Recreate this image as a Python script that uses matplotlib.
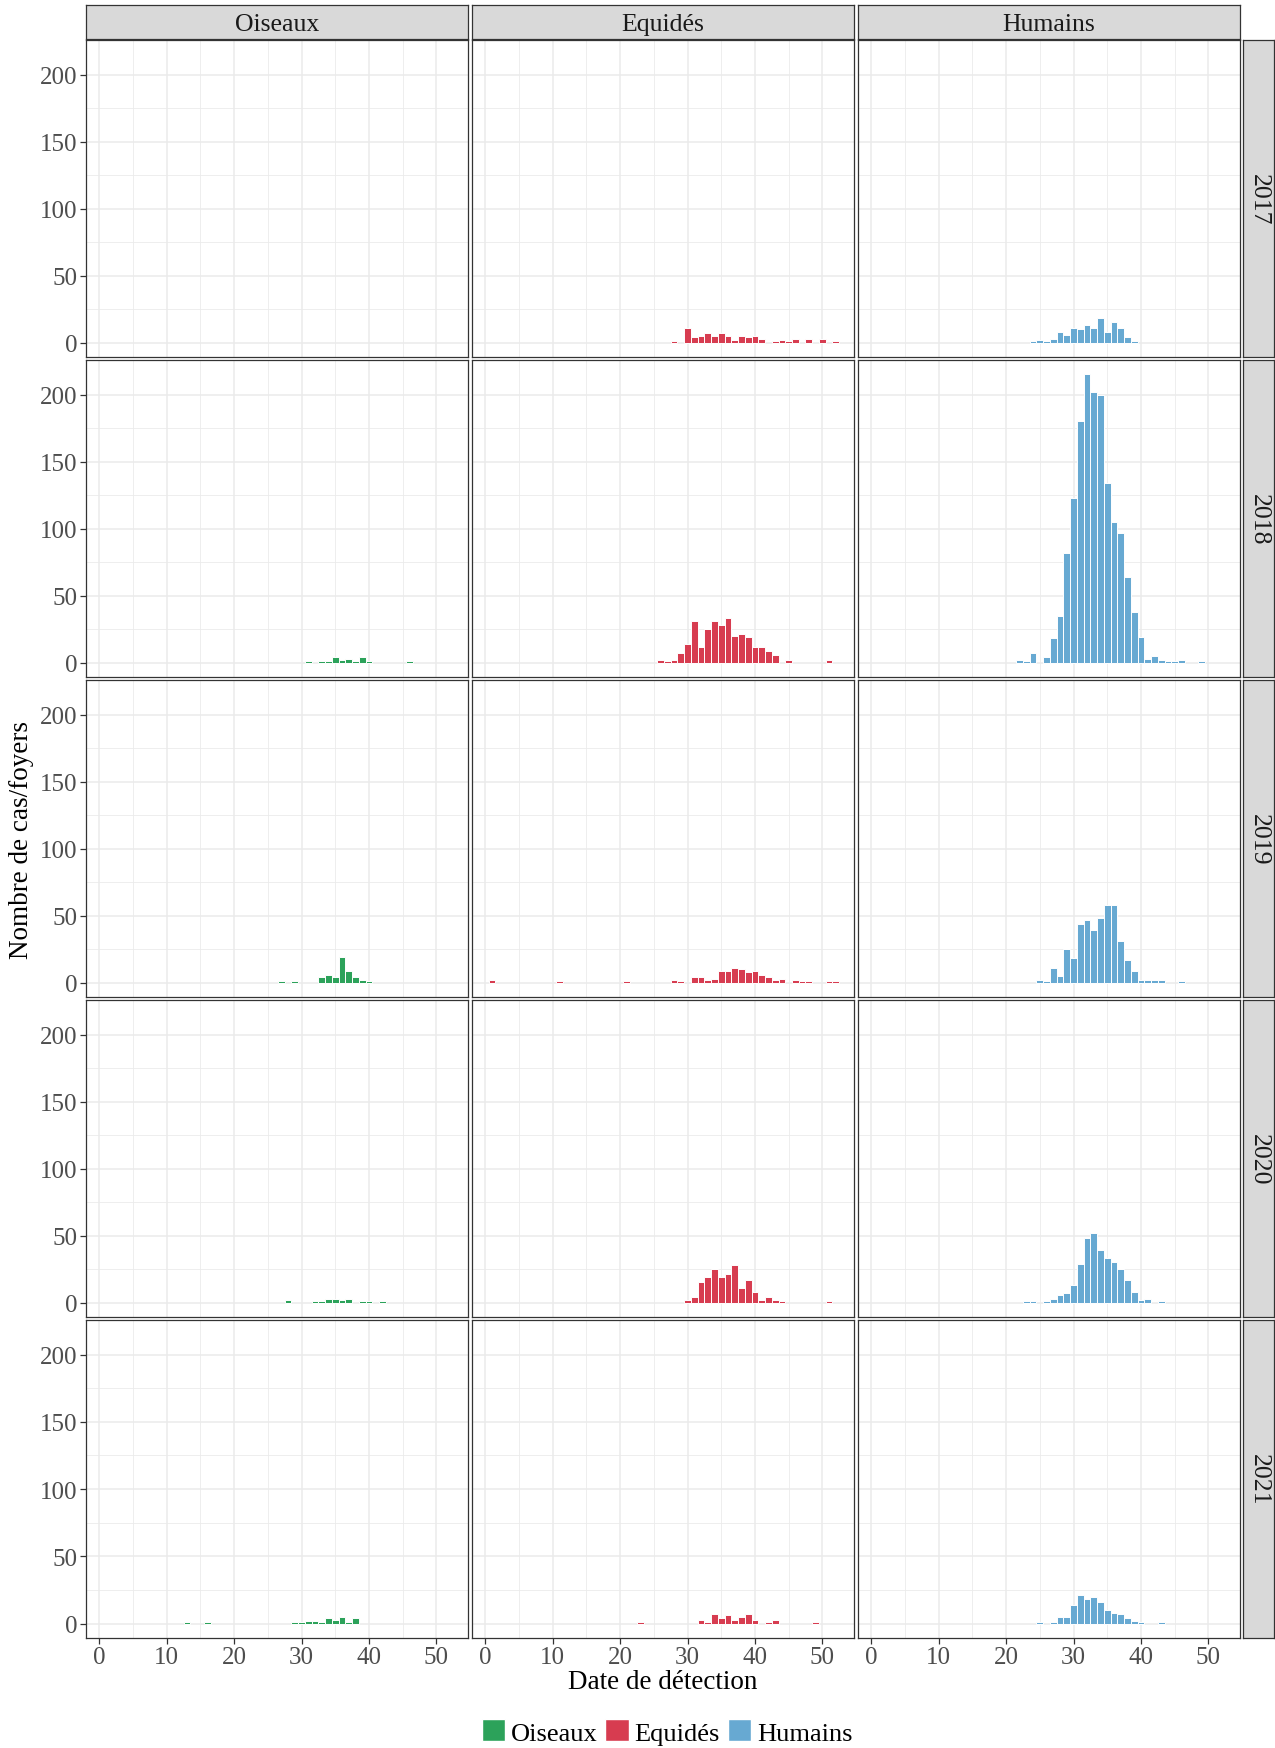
import matplotlib
matplotlib.use("Agg")
import matplotlib.pyplot as plt
from matplotlib.patches import Patch

plt.rcParams['font.family'] = ['Liberation Serif', 'DejaVu Serif']

# weekly counts, week -> number of cases/outbreaks
oiseaux_2017 = {}
oiseaux_2018 = {31: 1, 33: 1, 34: 1, 35: 4, 36: 2, 37: 3, 38: 1, 39: 4, 40: 1, 46: 1}
oiseaux_2019 = {27: 1, 29: 1, 33: 4, 34: 6, 35: 4, 36: 19, 37: 9, 38: 4, 39: 2, 40: 1}
oiseaux_2020 = {28: 2, 32: 1, 33: 1, 34: 3, 35: 3, 36: 2, 37: 3, 39: 1, 40: 1, 42: 1}
oiseaux_2021 = {13: 1, 16: 1, 29: 1, 30: 1, 31: 2, 32: 2, 33: 1, 34: 4, 35: 3,
                36: 5, 37: 1, 38: 4}

equides_2017 = {28: 1, 30: 11, 31: 4, 32: 5, 33: 7, 34: 5, 35: 7, 36: 5, 37: 2,
                38: 5, 39: 4, 40: 5, 41: 3, 43: 1, 44: 2, 45: 1, 46: 3, 48: 3,
                50: 3, 52: 1}
equides_2018 = {26: 2, 27: 1, 28: 2, 29: 7, 30: 14, 31: 31, 32: 12, 33: 25, 34: 31,
                35: 28, 36: 33, 37: 20, 38: 21, 39: 19, 40: 12, 41: 12, 42: 9,
                43: 6, 45: 2, 51: 2}
equides_2019 = {1: 2, 11: 1, 21: 1, 28: 2, 29: 1, 31: 4, 32: 4, 33: 2, 34: 3,
                35: 9, 36: 9, 37: 11, 38: 10, 39: 8, 40: 9, 41: 6, 42: 4, 43: 2,
                44: 3, 46: 2, 47: 1, 48: 1, 51: 1, 52: 1}
equides_2020 = {30: 2, 31: 4, 32: 15, 33: 19, 34: 25, 35: 19, 36: 21, 37: 28,
                38: 11, 39: 17, 40: 8, 41: 2, 42: 4, 43: 2, 44: 1, 51: 1}
equides_2021 = {23: 1, 32: 3, 33: 1, 34: 7, 35: 4, 36: 6, 37: 3, 38: 5, 39: 7,
                40: 3, 42: 1, 43: 3, 49: 1}

humains_2017 = {24: 1, 25: 2, 26: 1, 27: 3, 28: 8, 29: 6, 30: 11, 31: 10, 32: 13,
                33: 11, 34: 18, 35: 8, 36: 15, 37: 11, 38: 4, 39: 1}
humains_2018 = {22: 2, 23: 1, 24: 7, 26: 4, 27: 18, 28: 35, 29: 82, 30: 123,
                31: 180, 32: 215, 33: 202, 34: 200, 35: 134, 36: 105, 37: 97,
                38: 64, 39: 38, 40: 19, 41: 3, 42: 5, 43: 2, 44: 1, 45: 1,
                46: 2, 49: 1}
humains_2019 = {25: 2, 26: 1, 27: 11, 28: 5, 29: 25, 30: 18, 31: 44, 32: 47,
                33: 39, 34: 48, 35: 58, 36: 58, 37: 31, 38: 17, 39: 9, 40: 2,
                41: 2, 42: 2, 43: 2, 46: 1}
humains_2020 = {23: 1, 24: 1, 26: 1, 27: 3, 28: 6, 29: 7, 30: 13, 31: 29, 32: 48,
                33: 52, 34: 39, 35: 33, 36: 30, 37: 25, 38: 17, 39: 8, 40: 2,
                41: 3, 43: 1}
humains_2021 = {25: 1, 27: 1, 28: 5, 29: 5, 30: 14, 31: 21, 32: 18, 33: 20,
                34: 16, 35: 10, 36: 8, 37: 7, 38: 4, 39: 2, 40: 1, 43: 1}

years = ["2017", "2018", "2019", "2020", "2021"]
species = ["Oiseaux", "Equidés", "Humains"]
colors = ["#2CA25A", "#D73C50", "#67A9D2"]
panels = [
    [oiseaux_2017, equides_2017, humains_2017],
    [oiseaux_2018, equides_2018, humains_2018],
    [oiseaux_2019, equides_2019, humains_2019],
    [oiseaux_2020, equides_2020, humains_2020],
    [oiseaux_2021, equides_2021, humains_2021],
]

W, H = 1275, 1749
fig = plt.figure(figsize=(W / 100, H / 100), dpi=100)


def box(x0, y0, x1, y1):
    return [x0 / W, 1 - y1 / H, (x1 - x0) / W, (y1 - y0) / H]


col_x = [(86, 468), (472, 854), (858, 1240)]
row_y = [(41, 358), (361, 678), (681, 998), (1001, 1318), (1321, 1639)]
border = "#333333"
grid = "#EBEBEB"
tick_col = "#4D4D4D"

for r, year in enumerate(years):
    for c, sp in enumerate(species):
        ax = fig.add_axes(box(col_x[c][0], row_y[r][0], col_x[c][1], row_y[r][1]))
        data = panels[r][c]
        ax.bar(list(data.keys()), list(data.values()), width=1,
               color=colors[c], edgecolor="white", linewidth=0.7, zorder=3)
        ax.set_xlim(-1.97, 54.7)
        ax.set_ylim(-10.75, 225.75)
        ax.set_xticks(range(0, 51, 10))
        ax.set_xticks(range(5, 51, 10), minor=True)
        ax.set_yticks(range(0, 201, 50))
        ax.set_yticks(range(25, 201, 50), minor=True)
        ax.grid(True, which="major", color=grid, linewidth=1.1, zorder=0)
        ax.grid(True, which="minor", color=grid, linewidth=0.6, zorder=0)
        for s in ax.spines.values():
            s.set_color(border)
            s.set_linewidth(0.9)
        ax.tick_params(which="minor", length=0)
        ax.tick_params(which="major", color=border, length=4, width=0.9,
                       labelsize=18, labelcolor=tick_col, pad=2)
        if c > 0:
            ax.tick_params(axis="y", length=0, labelleft=False)
        if r < len(years) - 1:
            ax.tick_params(axis="x", length=0, labelbottom=False)

        if r == 0:
            sax = fig.add_axes(box(col_x[c][0], 6, col_x[c][1], 40))
            sax.set_xticks([]); sax.set_yticks([])
            sax.set_facecolor("#D9D9D9")
            for s in sax.spines.values():
                s.set_color(border); s.set_linewidth(0.9)
            sax.text(0.5, 0.45, sp, ha="center", va="center", fontsize=18.5,
                     color="#1A1A1A", transform=sax.transAxes)

    rax = fig.add_axes(box(1243, row_y[r][0], 1274, row_y[r][1]))
    rax.set_xticks([]); rax.set_yticks([])
    rax.set_facecolor("#D9D9D9")
    for s in rax.spines.values():
        s.set_color(border); s.set_linewidth(0.9)
    rax.text(0.5, 0.5, year, ha="center", va="center", fontsize=18.5,
             rotation=-90, color="#1A1A1A", transform=rax.transAxes)

fig.text(22 / W, 1 - 840 / H, "Nombre de cas/foyers", rotation=90,
         ha="center", va="center", fontsize=19.5)
fig.text(663 / W, 1 - 1683 / H, "Date de détection", ha="center", va="center",
         fontsize=19.5)

handles = [Patch(facecolor=col, edgecolor="white", label=sp)
           for sp, col in zip(species, colors)]
fig.legend(handles=handles, loc="center", bbox_to_anchor=(667 / W, 1 - 1733 / H),
           ncol=3, frameon=False, fontsize=19, handlelength=0.9,
           handleheight=0.9, handletextpad=0.2, columnspacing=0.3)

fig.savefig("out.png", dpi=100)
